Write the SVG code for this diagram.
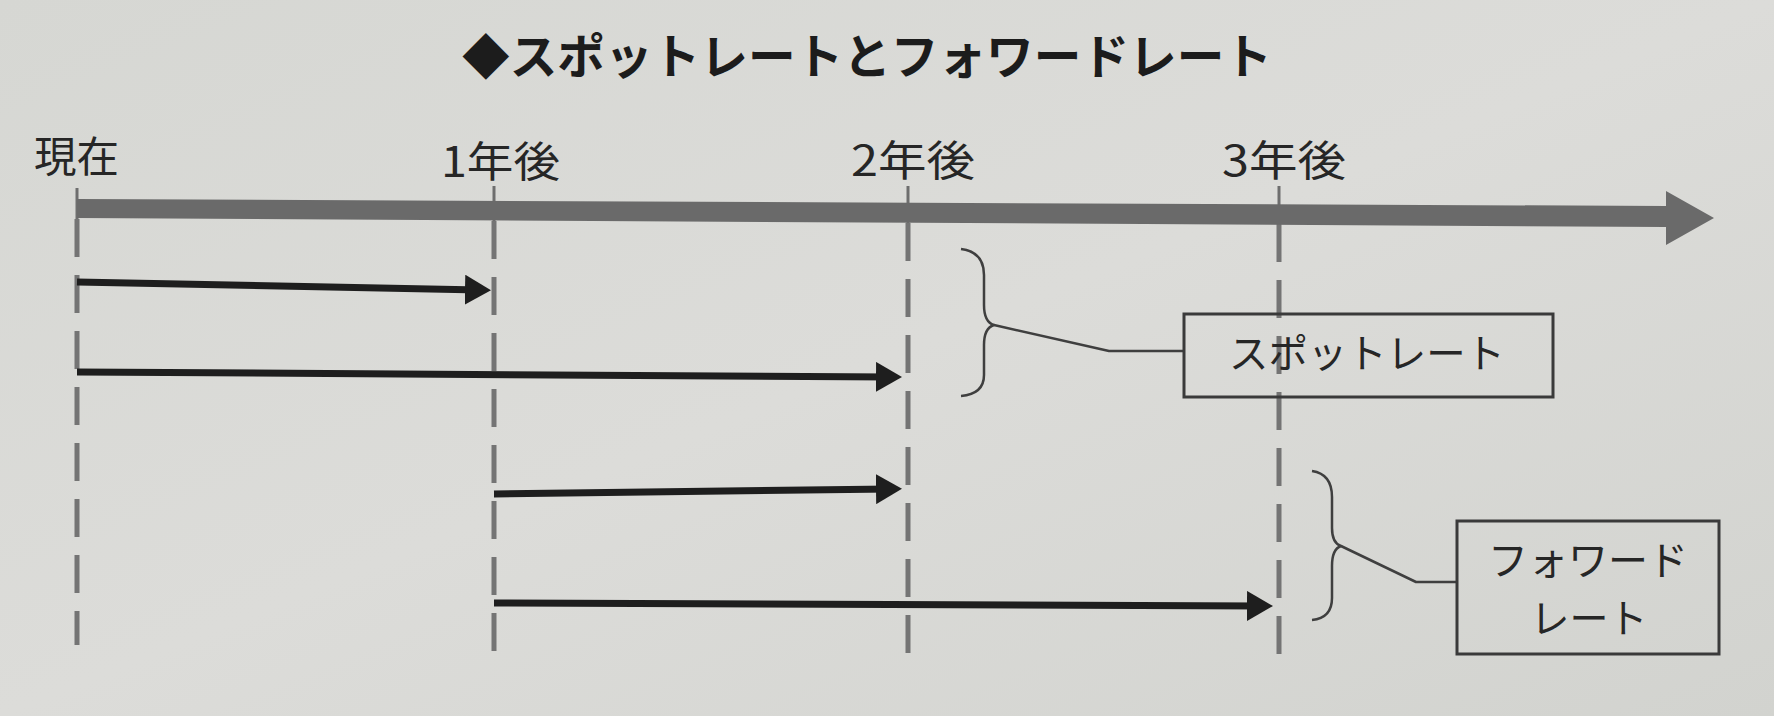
<svg xmlns="http://www.w3.org/2000/svg" width="1774" height="716" viewBox="0 0 1774 716">
<style>
.lbl{font-family:"Noto Sans CJK JP","Noto Sans CJK SC",sans-serif;font-size:42px;fill:#262626}
.box{fill:none;stroke:#3a3a3a;stroke-width:3}
.btxt{font-family:"Noto Sans CJK JP","Noto Sans CJK SC",sans-serif;font-size:40px;fill:#262626;text-anchor:middle}
.brace{fill:none;stroke:#3f3f3f;stroke-width:2.5;stroke-linejoin:round}
.dash{stroke:#747474;stroke-width:5;stroke-dasharray:38 18}
.tick{stroke:#6e6e6e;stroke-width:3}
.arr{stroke:#1e1e1e;stroke-width:7;fill:none;marker-end:url(#ah)}
</style>
<defs>
<linearGradient id="bg" x1="0" y1="0" x2="1" y2="1">
<stop offset="0" stop-color="#d6d7d3"/>
<stop offset="0.5" stop-color="#dcdcd9"/>
<stop offset="1" stop-color="#d2d3cf"/>
</linearGradient>
<marker id="ah" viewBox="0 0 26 30" refX="15" refY="15" markerWidth="26" markerHeight="30" markerUnits="userSpaceOnUse" orient="auto">
<path d="M0,0 L26,15 L0,30 Z" fill="#1e1e1e"/>
</marker>
</defs>
<rect x="0" y="0" width="1774" height="716" fill="url(#bg)"/>

<g id="title">
<text x="462" y="74" font-family="Noto Sans CJK JP, Noto Sans CJK SC, sans-serif" font-size="48" font-weight="700" fill="#1c1c1c" textLength="810" lengthAdjust="spacingAndGlyphs">◆スポットレートとフォワードレート</text>
</g>

<g id="gridlines">
<line class="tick" x1="77" y1="188" x2="77" y2="220"/>
<line class="tick" x1="494" y1="186" x2="494" y2="222"/>
<line class="tick" x1="908" y1="186" x2="908" y2="224"/>
<line class="tick" x1="1279" y1="186" x2="1279" y2="225"/>
<line class="dash" x1="77" y1="219" x2="77" y2="645"/>
<line class="dash" x1="494" y1="221" x2="494" y2="655"/>
<line class="dash" x1="908" y1="223" x2="908" y2="654"/>
<line class="dash" x1="1279" y1="224" x2="1279" y2="660"/>
</g>

<g id="axis">
<polygon points="77,199 1666,206 1666,191 1714,218 1666,245 1666,227 77,218" fill="#6a6a6a"/>
</g>

<g id="label-now"><text class="lbl" x="34" y="172" textLength="85" lengthAdjust="spacingAndGlyphs">現在</text></g>
<g id="label-1y"><text class="lbl" x="441" y="177" textLength="119" lengthAdjust="spacingAndGlyphs">1年後</text></g>
<g id="label-2y"><text class="lbl" x="851" y="176" textLength="124" lengthAdjust="spacingAndGlyphs">2年後</text></g>
<g id="label-3y"><text class="lbl" x="1222" y="176" textLength="124" lengthAdjust="spacingAndGlyphs">3年後</text></g>

<g id="connectors">
<line class="arr" x1="77" y1="282" x2="480" y2="290"/>
<line class="arr" x1="77" y1="372" x2="891" y2="377"/>
<line class="arr" x1="494" y1="494" x2="891" y2="489"/>
<line class="arr" x1="494" y1="603" x2="1262" y2="606"/>
</g>

<g id="spot-brace">
<path class="brace" d="M961,249 Q984,252 984,275 L984,305 Q984,322 994,325 Q984,328 984,345 L984,375 Q984,394 961,396"/>
<path class="brace" d="M994,325 L1109,351 L1184,351"/>
</g>
<g id="spot-box">
<rect class="box" x="1184" y="314" width="369" height="83"/>
<text class="btxt" x="1367" y="368" textLength="276" lengthAdjust="spacingAndGlyphs">スポットレート</text>
</g>

<g id="forward-brace">
<path class="brace" d="M1312,471 Q1332,474 1332,497 L1332,528 Q1332,543 1341,546 Q1332,549 1332,566 L1332,598 Q1332,618 1312,620"/>
<path class="brace" d="M1341,546 L1416,582 L1457,582"/>
</g>
<g id="forward-box">
<rect class="box" x="1457" y="521" width="262" height="133"/>
<text class="btxt" x="1588" y="575" textLength="200" lengthAdjust="spacingAndGlyphs">フォワード</text>
<text class="btxt" x="1589" y="633" textLength="117" lengthAdjust="spacingAndGlyphs">レート</text>
</g>
</svg>
